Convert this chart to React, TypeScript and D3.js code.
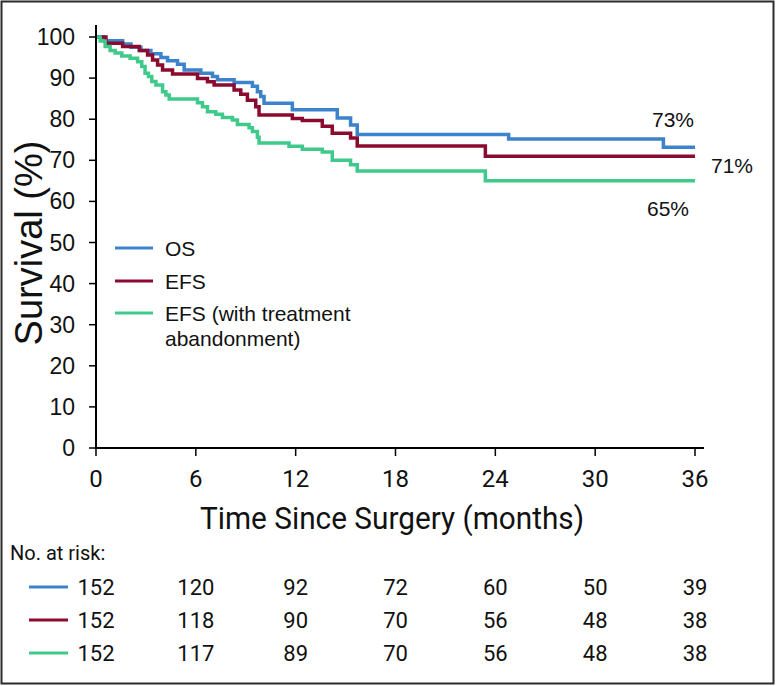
import React from "react";
import * as d3 from "d3";

// ---- data ----
const monthTicks = [0, 6, 12, 18, 24, 30, 36];
const survivalTicks = [0, 10, 20, 30, 40, 50, 60, 70, 80, 90, 100];

const osCurve: [number, number][] = [
  [0, 100], [0.5, 99.1], [1.6, 98.3], [2.1, 97.5], [2.7, 96.7], [3.3, 95.9], [3.9, 95.0],
  [4.3, 94.2], [4.9, 93.4], [5.3, 92.0], [6.3, 91.2], [7.0, 90.4], [7.3, 89.6], [8.3, 88.9],
  [9.4, 88.0], [9.7, 86.7], [9.9, 85.5], [10.1, 83.9], [11.8, 82.3], [14.5, 80.3],
  [15.3, 78.6], [15.7, 76.3], [24.8, 75.2], [34.1, 73.2], [36, 73.2],
];
const efsCurve: [number, number][] = [
  [0, 100], [0.6, 98.5], [1.6, 97.7], [2.6, 96.7], [3.1, 95.6], [3.4, 94.4], [3.7, 93.2],
  [4.0, 92.0], [4.6, 91.0], [6.1, 89.9], [6.7, 89.1], [7.1, 88.3], [8.3, 87.1], [8.7, 86.1],
  [9.1, 84.6], [9.6, 83.0], [9.8, 81.0], [11.8, 80.2], [12.4, 79.7], [13.6, 78.3],
  [14.2, 76.6], [15.3, 75.4], [15.7, 73.5], [23.4, 71.0], [36, 71.0],
];
const efsAbandonCurve: [number, number][] = [
  [0, 100], [0.25, 99.0], [0.55, 97.7], [0.85, 96.7], [1.15, 96.1], [1.55, 95.4],
  [2.05, 94.8], [2.5, 94.0], [2.75, 92.8], [2.95, 91.2], [3.15, 90.4], [3.35, 89.2],
  [3.6, 88.3], [4.0, 86.7], [4.2, 85.9], [4.4, 84.9], [6.1, 84.0], [6.4, 83.0], [6.7, 81.8],
  [7.2, 81.2], [7.6, 80.4], [8.2, 79.8], [8.5, 78.7], [9.2, 77.9], [9.4, 77.0], [9.7, 75.6],
  [9.8, 74.2], [11.6, 73.4], [12.4, 72.7], [13.6, 72.0], [14.2, 70.0], [15.3, 68.9],
  [15.7, 67.4], [23.4, 65.0], [36, 65.0],
];

const seriesNames = ["OS", "EFS", "EFS (with treatment|abandonment)"];
const seriesColors = ["#3d83cc", "#8a0b2f", "#3fc98b"];
const endLabels = ["73%", "71%", "65%"];
const atRiskOS = [152, 120, 92, 72, 60, 50, 39];
const atRiskEFS = [152, 118, 90, 70, 56, 48, 38];
const atRiskEFSAbandon = [152, 117, 89, 70, 56, 48, 38];

const SANS = "'Liberation Sans', Arial, sans-serif";
const COND = "Roboto, 'Liberation Sans', sans-serif";

export default function App() {
  const x = d3.scaleLinear().domain([0, 36]).range([96, 695]);
  const y = d3.scaleLinear().domain([0, 100]).range([448, 37]);
  const line = d3
    .line<[number, number]>()
    .x((d) => x(d[0]))
    .y((d) => y(d[1]))
    .curve(d3.curveStepAfter);

  const curves = [osCurve, efsCurve, efsAbandonCurve];
  const risks = [atRiskOS, atRiskEFS, atRiskEFSAbandon];
  const endLabelPos = [
    { x: 673, y: 119 },
    { x: 732, y: 165 },
    { x: 668, y: 208 },
  ];
  const legendY = [248, 281, 313];
  const riskY = [587, 620, 653];

  return (
    <svg
      width={777}
      height={686}
      style={{ position: "absolute", left: 0, top: 0, background: "#fff" }}
    >
      <rect x={1.5} y={1.5} width={772} height={682} fill="#fff" stroke="#2b2b2b" strokeWidth={2} />

      {/* curves */}
      {curves.map((c, i) => (
        <path
          key={i}
          d={line(c) || ""}
          fill="none"
          stroke={seriesColors[i]}
          strokeWidth={3.5}
          strokeLinejoin="miter"
        />
      ))}

      {/* y axis */}
      <line x1={x(0)} x2={x(0)} y1={25} y2={y(0)} stroke="#000" strokeWidth={2} />
      {survivalTicks.map((t) => (
        <g key={t}>
          <line x1={x(0) - 7} x2={x(0)} y1={y(t)} y2={y(t)} stroke="#000" strokeWidth={1.5} />
          <text
            x={75}
            y={y(t)}
            textAnchor="end"
            dominantBaseline="central"
            fontFamily={SANS}
            fontSize={23}
            fill="#111"
          >
            {t}
          </text>
        </g>
      ))}
      <text
        transform={`translate(29,${243}) rotate(-90)`}
        textAnchor="middle"
        dominantBaseline="central"
        fontFamily={SANS}
        fontSize={38}
        fill="#111"
      >
        Survival (%)
      </text>

      {/* x axis */}
      <line x1={x(0) - 1} x2={704} y1={y(0)} y2={y(0)} stroke="#000" strokeWidth={2} />
      {monthTicks.map((t) => (
        <g key={t}>
          <line x1={x(t)} x2={x(t)} y1={y(0)} y2={y(0) + 8} stroke="#000" strokeWidth={1.5} />
          <text
            x={x(t)}
            y={487}
            textAnchor="middle"
            fontFamily={COND}
            fontSize={24}
            fill="#111"
          >
            {t}
          </text>
        </g>
      ))}
      <text
        x={392}
        y={529}
        textAnchor="middle"
        fontFamily={COND}
        fontSize={32}
        textLength={384}
        lengthAdjust="spacingAndGlyphs"
        fill="#111"
      >
        Time Since Surgery (months)
      </text>

      {/* end labels */}
      {endLabels.map((l, i) => (
        <text
          key={l}
          x={endLabelPos[i].x}
          y={endLabelPos[i].y}
          textAnchor="middle"
          dominantBaseline="central"
          fontFamily={SANS}
          fontSize={21}
          fill="#111"
        >
          {l}
        </text>
      ))}

      {/* legend */}
      {seriesNames.map((name, i) => (
        <g key={name}>
          <line x1={115} x2={153} y1={legendY[i]} y2={legendY[i]} stroke={seriesColors[i]} strokeWidth={3} />
          {name.split("|").map((part, j) => (
            <text
              key={j}
              x={165}
              y={legendY[i] + j * 25}
              dominantBaseline="central"
              fontFamily={SANS}
              fontSize={21}
              fill="#111"
            >
              {part}
            </text>
          ))}
        </g>
      ))}

      {/* number at risk */}
      <text x={10} y={560} fontFamily={COND} fontSize={20} fill="#111">
        No. at risk:
      </text>
      {risks.map((row, i) => (
        <g key={i}>
          <line x1={29} x2={68} y1={riskY[i]} y2={riskY[i]} stroke={seriesColors[i]} strokeWidth={3} />
          {row.map((v, j) => (
            <text
              key={j}
              x={x(monthTicks[j])}
              y={riskY[i]}
              textAnchor="middle"
              dominantBaseline="central"
              fontFamily={COND}
              fontSize={22}
              fill="#111"
            >
              {v}
            </text>
          ))}
        </g>
      ))}
    </svg>
  );
}
